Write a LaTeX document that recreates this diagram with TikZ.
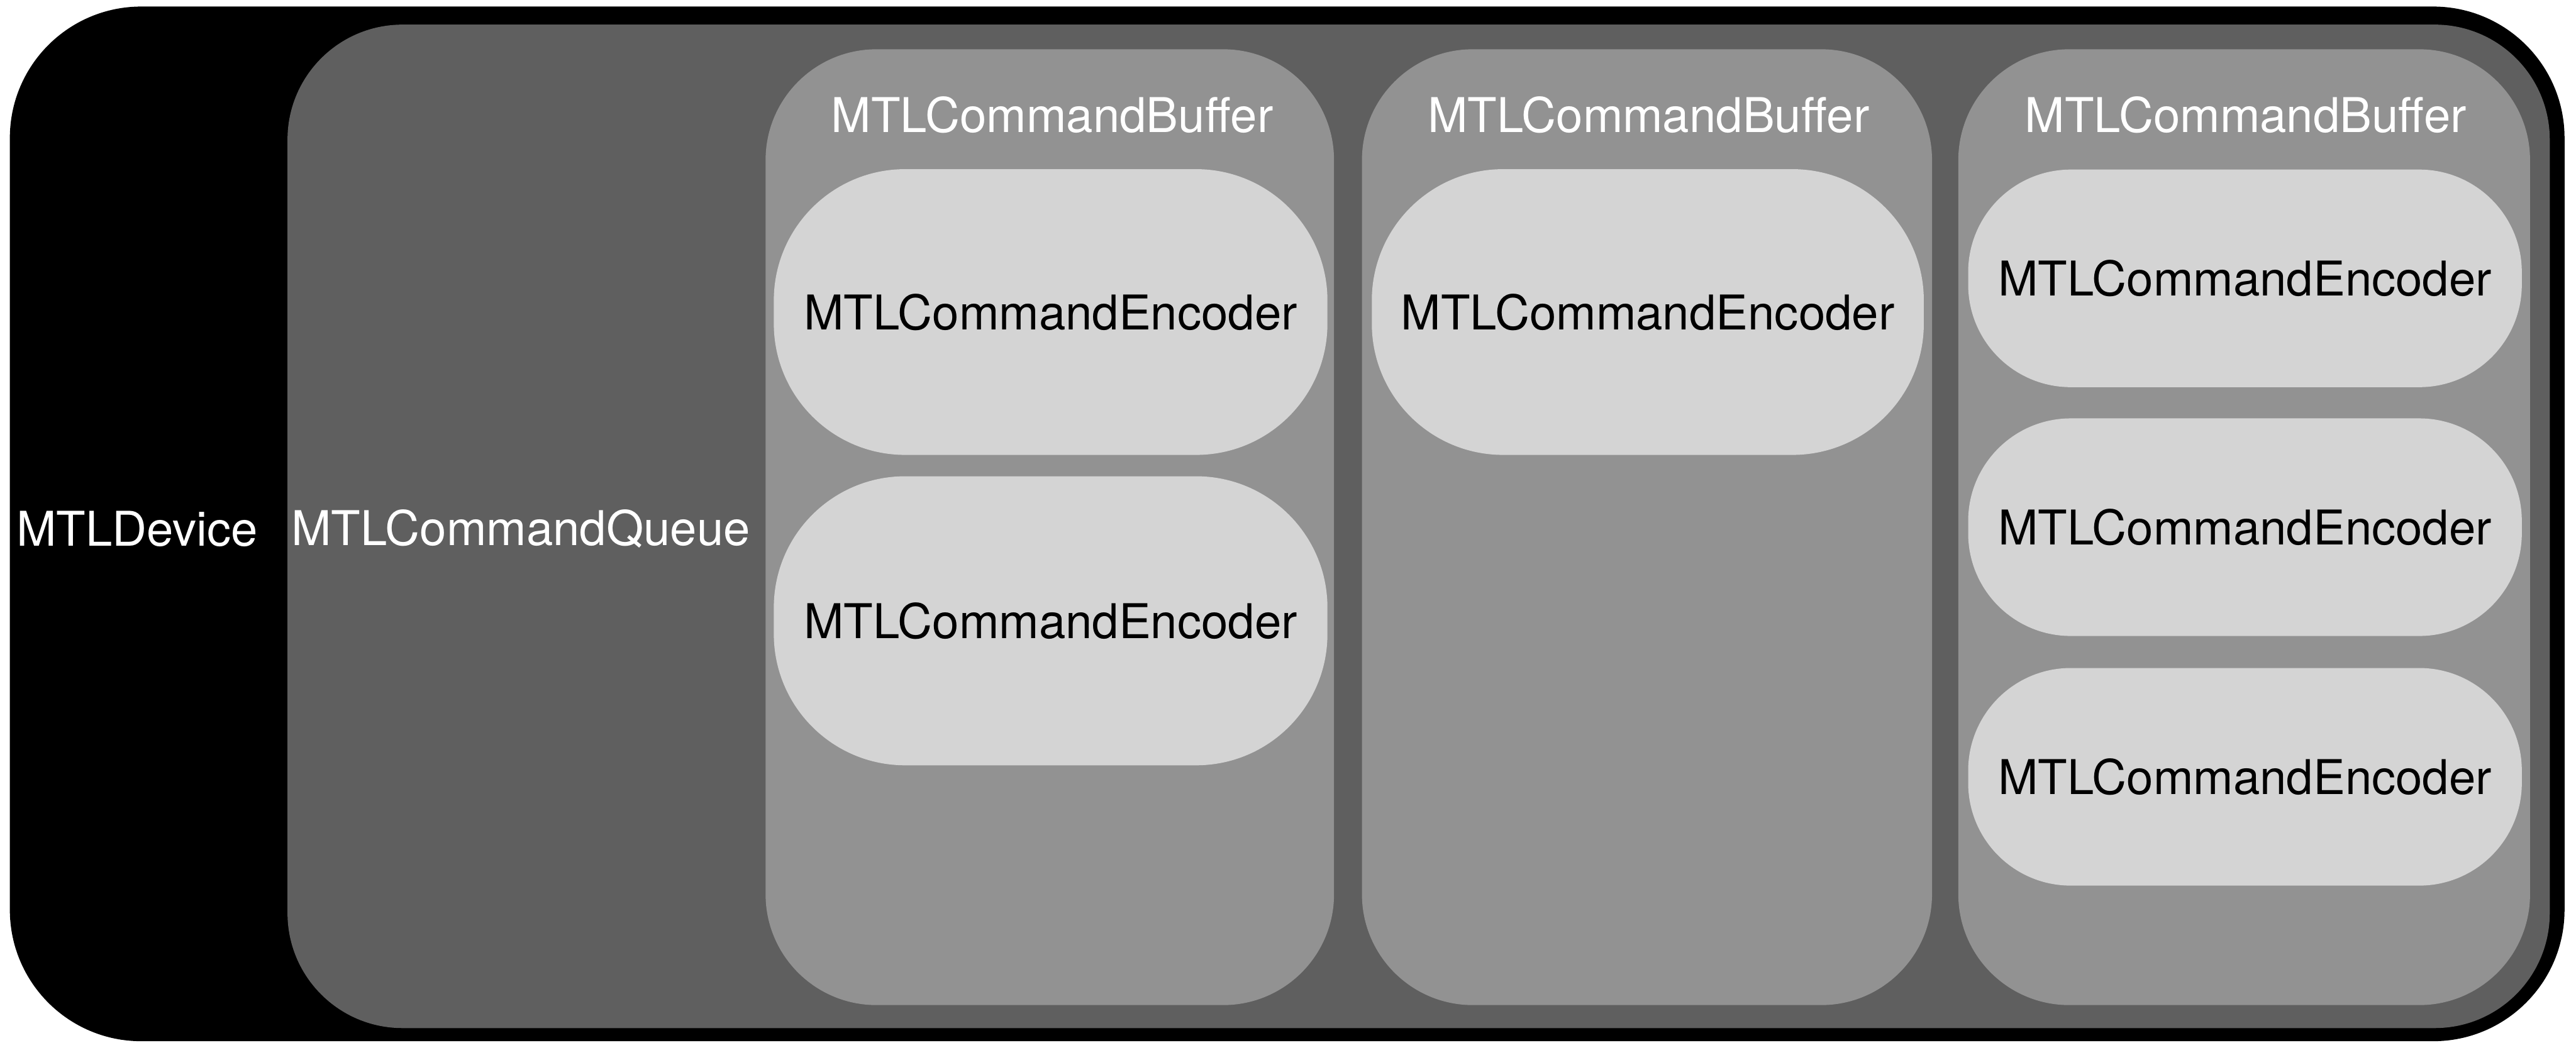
\documentclass[tikz,border=0pt]{standalone}
\usepackage{fontspec}
\setmainfont{TeX Gyre Heros}
\usepackage{tikz}
\usetikzlibrary{positioning}

\definecolor{queuegray}{HTML}{5F5F5F}
\definecolor{bufgray}{HTML}{929292}
\definecolor{encgray}{HTML}{D4D4D4}

\begin{document}
\begin{tikzpicture}[
    every node/.style={font=\fontsize{16.6}{20}\selectfont,inner sep=0pt},
    dev/.style={fill=black,rounded corners=1.6cm},
    queue/.style={fill=queuegray,rounded corners=1.4cm},
    cbuf/.style={fill=bufgray,rounded corners=1.35cm,minimum height=11.64cm},
    enc/.style={fill=encgray,rounded corners=1.6cm,minimum width=6.74cm,minimum height=3.48cm},
    encs/.style={enc,rounded corners=1.25cm,minimum height=2.65cm},
    label/.style={text=white}
]
\useasboundingbox (0,0) rectangle (31.36,12.70);

% Device and queue
\node[dev,minimum width=31.10cm,minimum height=12.60cm] (dev) at (15.67,6.32) {};
\node[queue,minimum width=27.54cm,minimum height=12.22cm] (queue) at (17.27,6.29) {};
\node[label] (devlbl) at (1.67,6.26) {MTLDevice};
\node[label] (queuelbl) at (6.34,6.26) {MTLCommandQueue};

% Command buffers
\node[cbuf,minimum width=6.92cm] (buf1) at (12.78,6.28) {};
\node[cbuf,minimum width=6.94cm] (buf2) at (20.05,6.28) {};
\node[cbuf,minimum width=6.96cm] (buf3) at (27.32,6.28) {};
\node[label] (buf1lbl) at (12.81,11.30) {MTLCommandBuffer};
\node[label] (buf2lbl) at (20.07,11.30) {MTLCommandBuffer};
\node[label] (buf3lbl) at (27.34,11.30) {MTLCommandBuffer};

% Encoders
\node[enc] (enc11) at (12.79,8.90) {MTLCommandEncoder};
\node[enc,minimum height=3.52cm] (enc12) at (12.79,5.14) {MTLCommandEncoder};
\node[enc,minimum width=6.72cm] (enc21) at (20.06,8.90) {MTLCommandEncoder};
\node[encs] (enc31) at (27.33,9.31) {MTLCommandEncoder};
\node[encs] (enc32) at (27.33,6.28) {MTLCommandEncoder};
\node[encs] (enc33) at (27.33,3.24) {MTLCommandEncoder};

\end{tikzpicture}
\end{document}
